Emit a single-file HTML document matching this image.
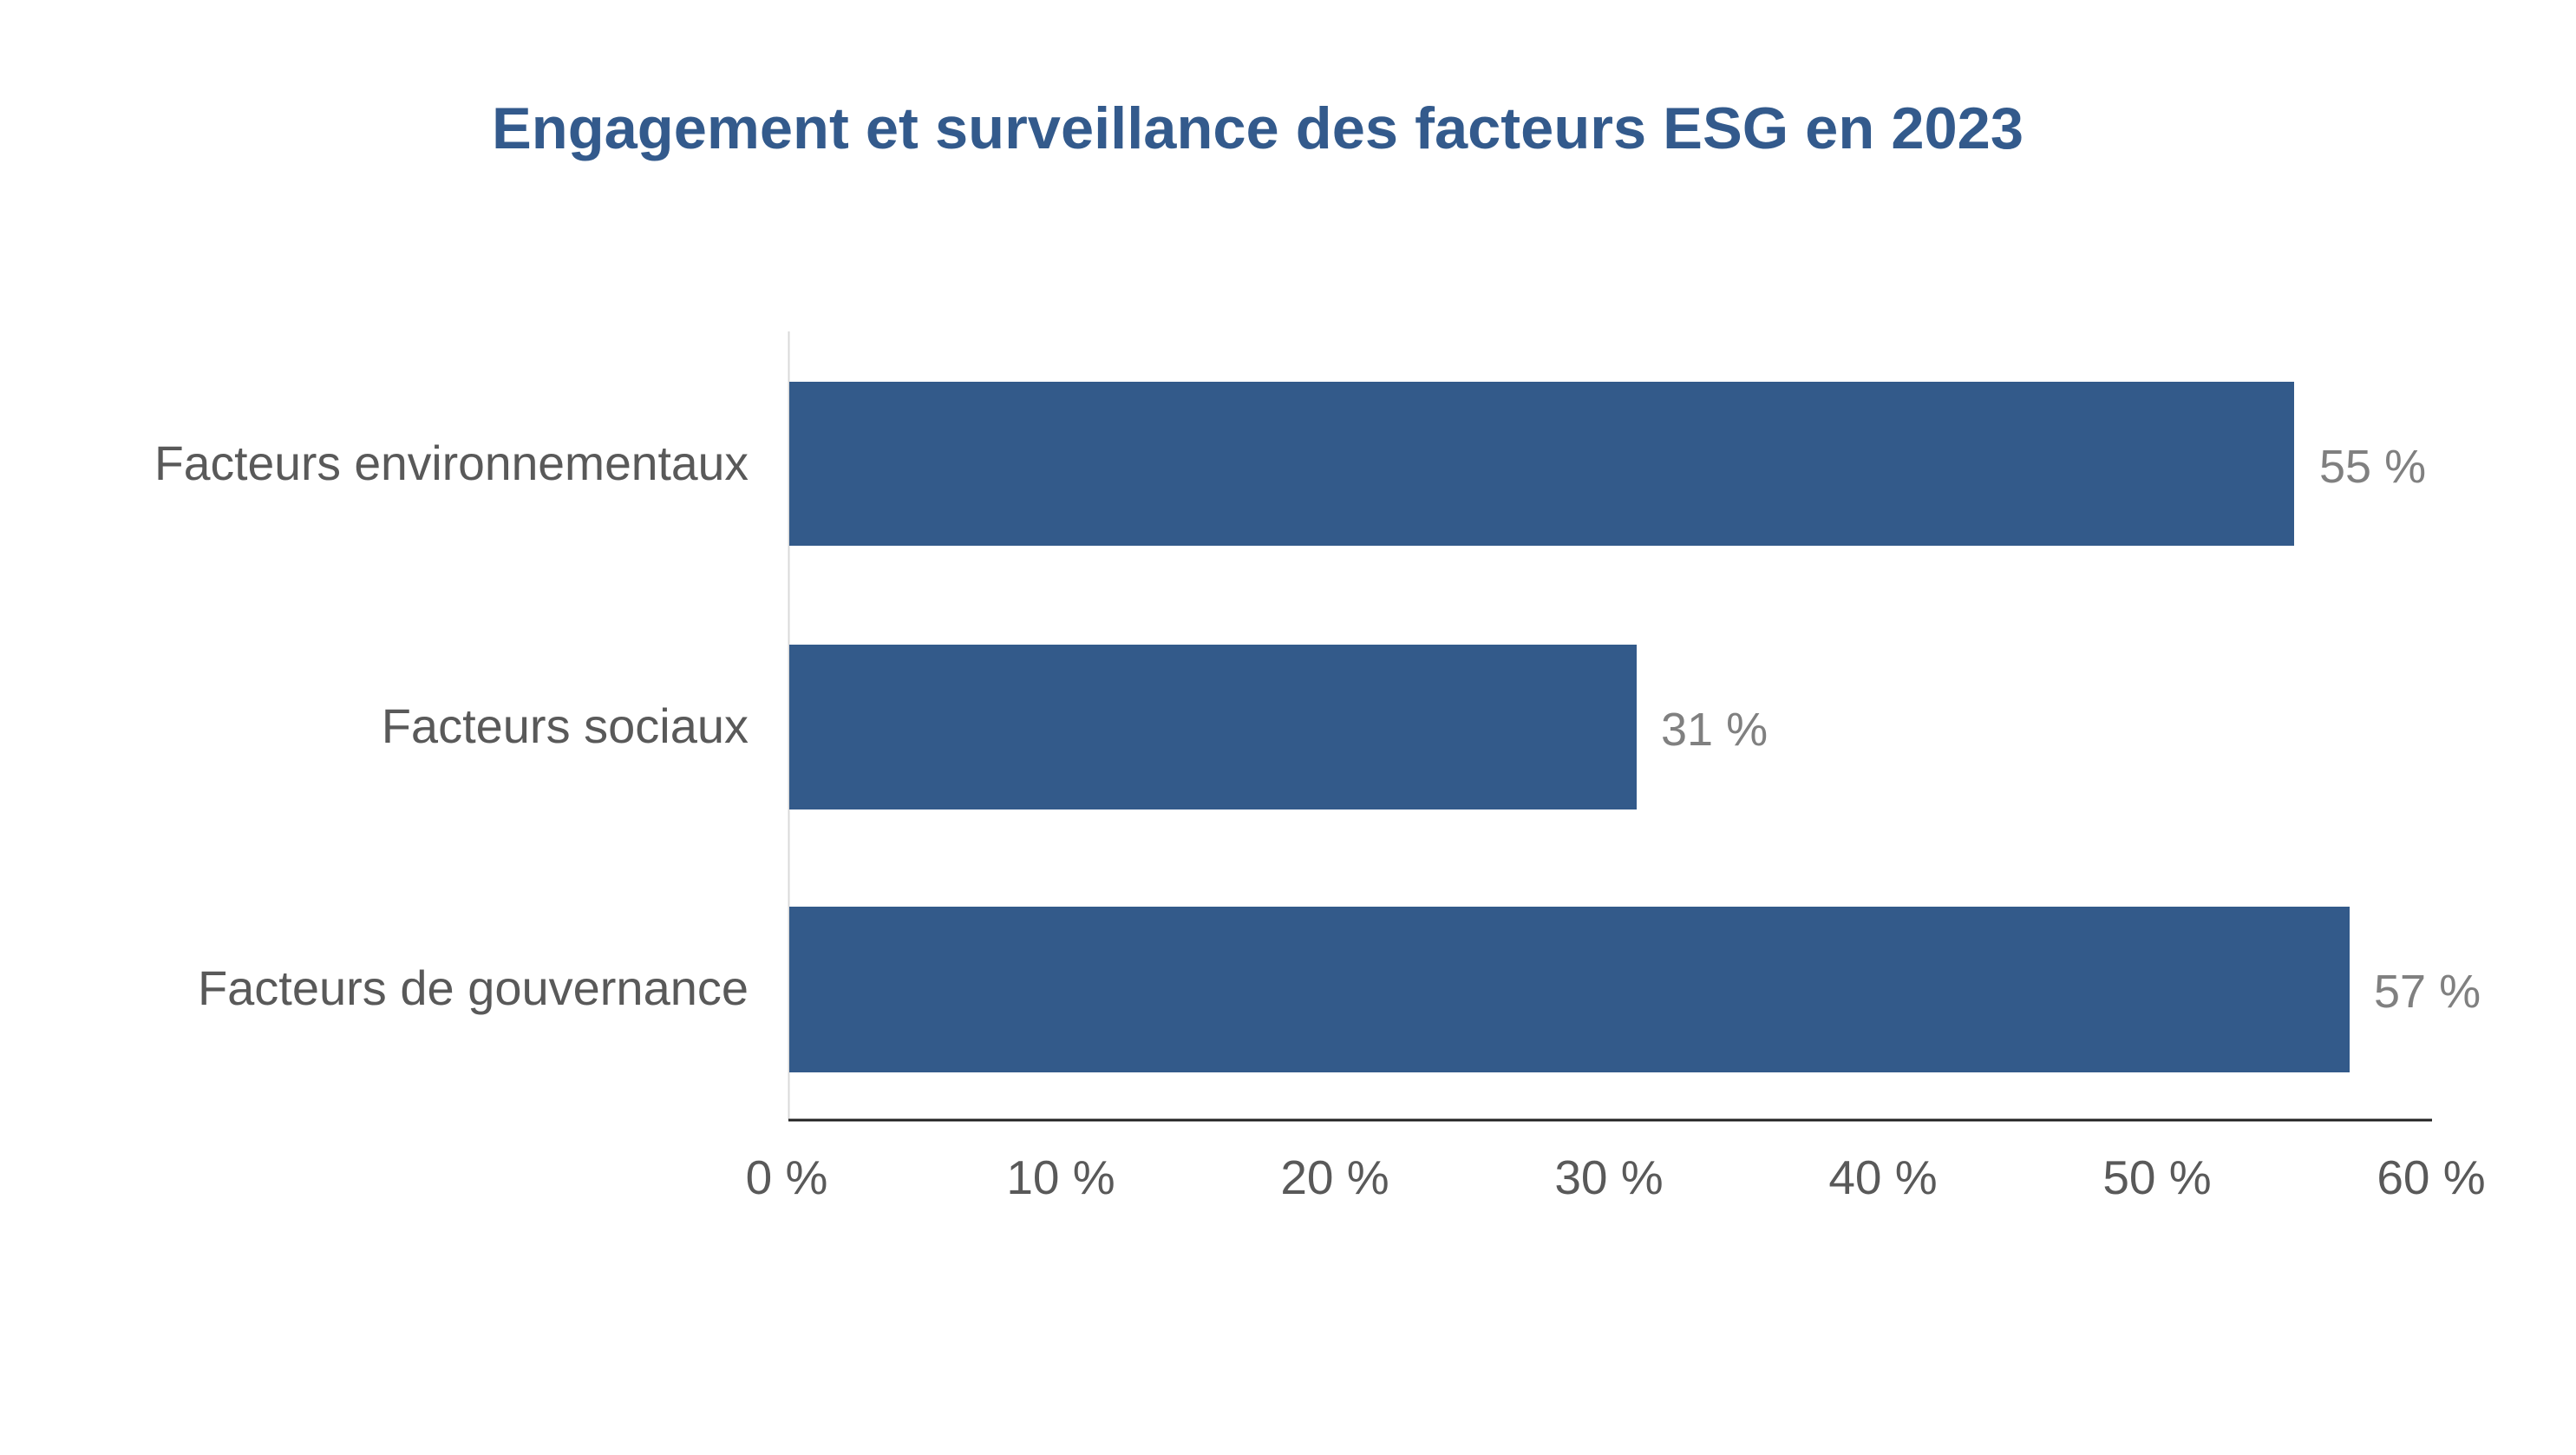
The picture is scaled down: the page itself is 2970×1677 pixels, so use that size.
<!DOCTYPE html>
<html><head><meta charset="utf-8"><style>html,body{margin:0;padding:0;background:#fff;}svg{display:block;}</style></head>
<body>
<svg width="2970" height="1677" viewBox="0 0 2970 1677" xmlns="http://www.w3.org/2000/svg">
<rect width="2970" height="1677" fill="#fff"/>
<text x="1450" y="171" text-anchor="middle" font-family="Liberation Sans, sans-serif" font-weight="bold" font-size="68" fill="#335a8c" textLength="1766" lengthAdjust="spacingAndGlyphs">Engagement et surveillance des facteurs ESG en 2023</text>
<line x1="909.5" y1="382" x2="909.5" y2="1291" stroke="#d9d9d9" stroke-width="2"/>
<rect x="910" y="440" width="1735" height="189" fill="#335a8a"/>
<rect x="910" y="743" width="977" height="190" fill="#335a8a"/>
<rect x="910" y="1045" width="1799" height="191" fill="#335a8a"/>
<line x1="909" y1="1291" x2="2804" y2="1291" stroke="#222" stroke-width="3"/>
<g font-family="Liberation Sans, sans-serif" font-size="56" fill="#595959" text-anchor="end">
<text x="863" y="553" textLength="685" lengthAdjust="spacingAndGlyphs">Facteurs environnementaux</text>
<text x="863" y="856">Facteurs sociaux</text>
<text x="863" y="1158">Facteurs de gouvernance</text>
</g>
<g font-family="Liberation Sans, sans-serif" font-size="54" fill="#808080">
<text x="2674" y="556">55 %</text>
<text x="1915" y="859">31 %</text>
<text x="2737" y="1161">57 %</text>
</g>
<g font-family="Liberation Sans, sans-serif" font-size="55" fill="#595959" text-anchor="middle">
<text x="907" y="1376">0 %</text>
<text x="1223" y="1376">10 %</text>
<text x="1539" y="1376">20 %</text>
<text x="1855" y="1376">30 %</text>
<text x="2171" y="1376">40 %</text>
<text x="2487" y="1376">50 %</text>
<text x="2803" y="1376">60 %</text>
</g>
</svg>
</body></html>
